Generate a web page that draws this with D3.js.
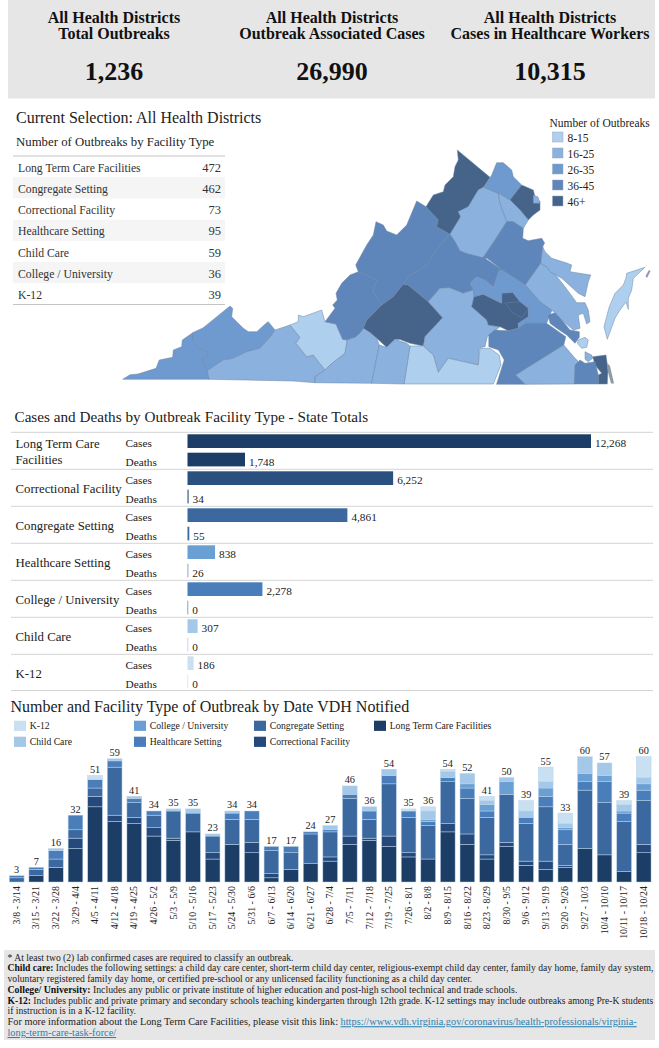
<!DOCTYPE html>
<html>
<head>
<meta charset="utf-8">
<script src="https://cdnjs.cloudflare.com/ajax/libs/d3/7.8.5/d3.min.js"></script>
<style>
html,body{margin:0;padding:0;background:#fff;}
svg{display:block;}
text{font-family:"Liberation Serif","Times New Roman",serif;fill:#222;}
</style>
</head>
<body>
<svg id="c" width="659" height="1048"></svg>
<script>
// ---------- DATA ----------
const kpiTitles = [["All Health Districts","Total Outbreaks"],["All Health Districts","Outbreak Associated Cases"],["All Health Districts","Cases in Healthcare Workers"]];
const kpiValues = [1236, 26990, 10315];

const tableFacilities = ["Long Term Care Facilities","Congregate Setting","Correctional Facility","Healthcare Setting","Child Care","College / University","K-12"];
const tableCounts = [472,462,73,95,59,36,39];

const bucketLabels = ["8-15","16-25","26-35","36-45","46+"];
const bucketColors = ["#aed0ee","#8bb1de","#6e9ad0","#5e86ba","#466389"];

const districtBuckets = [2,2,1,0,3,3,4,1,2,4,1,1,3,3,4,1,0,1,1,3,4,4,2,1,3,4,1,0,3,1,1,0];
const districtOutlines = [
 [[122.7,379.3],[130,374.7],[138,374],[156,368.3],[159.3,360],[172.7,357.3],[173.3,350],[181.7,346.7],[182.3,340],[192.7,332.7],[193.3,341.7],[198.3,348.3],[207.3,351.7],[208.3,356],[202.7,358.3],[207.3,370.7],[209.3,379.3]],
 [[192.7,332.7],[203.3,327.7],[230,306],[232.7,308.3],[231.7,316.7],[243.3,328.3],[248.3,331.7],[256.7,331.7],[266.7,322.7],[268.3,321.7],[275,330],[270,337.3],[260,348.3],[246.7,351.7],[233.3,358.3],[223.3,360],[207.3,370.7],[202.7,358.3],[208.3,356],[207.3,351.7],[198.3,348.3],[193.3,341.7]],
 [[209.3,379.3],[207.3,370.7],[223.3,360],[233.3,358.3],[246.7,351.7],[260,348.3],[270,337.3],[275,330],[290,325],[300,337.3],[296,343.3],[306.7,356.7],[313.3,355],[325,370],[315,376.7],[315,382.7],[293,381]],
 [[290,325],[298.3,321.7],[298.3,315],[303.3,316.7],[321.7,310],[325,321.7],[336,324],[342.7,339.3],[347.3,340],[345,353.3],[330,365],[325,370],[313.3,355],[306.7,356.7],[296,343.3],[300,337.3]],
 [[325,321.7],[335,308.3],[332.7,305],[337.3,300],[336,293.3],[341.7,283.3],[350,275],[358.3,271.7],[376.7,280],[373.3,291.7],[381.7,305],[366.7,320],[363.3,328.3],[360,332.7],[355,337.3],[347.3,340],[342.7,339.3],[336,324]],
 [[358.3,271.7],[355.7,265],[366.7,245],[373.3,235],[376,221.7],[383.3,225],[386.7,231],[396.7,235],[406.7,225],[416.7,201],[426,206.7],[438.3,220],[436.7,226.7],[450,234.3],[440,245],[430.7,258.3],[427.3,265],[408,276.7],[403,284.5],[393.3,296.7],[381.7,305],[373.3,291.7],[376.7,280]],
 [[457.3,150],[490,177.3],[484,186.7],[478.3,190],[468.3,206.7],[458.3,211.7],[460.7,216.7],[450,234.3],[436.7,226.7],[438.3,220],[426,206.7],[433.3,195],[443.3,191.7],[445,185],[453.3,176.7],[455,166.7],[458.3,160]],
 [[484,187.3],[498.3,193.3],[500,203],[506.7,221.7],[495,240],[482.7,258.3],[468,254],[460,251],[455,241.7],[450,234.3],[460.7,216.7],[458.3,211.7],[468.3,206.7],[478.3,190]],
 [[484,187.3],[491.7,175],[496.7,162.7],[503.3,162.7],[511.7,170],[513.3,176.7],[521.7,185],[510,200],[498.3,193.3]],
 [[521.7,185],[533.3,190],[535,196.7],[540,201.7],[540,210],[533.3,215],[528.3,220],[520,210],[510,200]],
 [[533.3,195],[538,197],[540,203.3],[533.3,203.3]],
 [[498.3,193.3],[510,200],[520,210],[528.3,220],[523.3,228.3],[513.3,221.7],[506.7,221.7],[500,203]],
 [[482.7,258.3],[495,240],[506.7,221.7],[513.3,221.7],[523.3,228.3],[522.7,238.3],[528.3,240.7],[541.7,238.3],[544.6,243],[542.7,246.7],[540.8,263.3],[525.4,285],[502.3,270],[487,258.3]],
 [[450,234.3],[455,241.7],[460,251],[468,254],[485,258.3],[502.3,270],[499,270],[493.3,286.7],[485,280],[476.7,276.7],[470,283],[473.3,290],[463.3,293.3],[449.3,287.7],[440,288.3],[428.3,301.7],[408,285],[403,284.5],[408,276.7],[427.3,265],[430.7,258.3],[440,245]],
 [[363.3,328.3],[366.7,320],[381.7,305],[393.3,296.7],[403,284.5],[408,285],[428.3,301.7],[442.7,317.7],[425,336.7],[423.3,346],[410,343.3],[400,339.5],[395,339.3],[386.7,347.3],[376.7,338.3]],
 [[428.3,301.7],[440,288.3],[449.3,287.7],[463.3,293.3],[473.3,290],[474,296.7],[471.7,306.7],[486.7,320],[488.3,325],[500,326.7],[487.3,336.7],[485,346.7],[479.3,347.7],[478.3,365],[448.3,358.3],[438.3,372.3],[433.3,355],[424,346.7],[425,336.7],[442.7,317.7]],
 [[410,346],[423.3,346],[433.3,355],[438.3,372.3],[448.3,358.3],[478.3,365],[480,348.3],[490,348.3],[499.3,355],[501,365],[493.3,384],[404,384]],
 [[347.3,340],[355,337.3],[360,332.7],[363.3,328.3],[370,332.3],[376.7,338.3],[379.3,345],[371.7,383.3],[315,382.7],[315,376.7],[325,370],[330,365],[345,353.3]],
 [[379.3,345],[386.7,347.3],[395,339.3],[406.7,343.3],[410,346],[404,384],[371.7,383.3]],
 [[351.7,330],[353,323],[360,321.7],[363.3,328.3],[360,332.7],[355,337.3]],
 [[471.7,306.7],[474,296.7],[483.3,294.3],[501.7,303.3],[501.7,293.3],[512.7,292.3],[520,301.7],[528.3,308.3],[528.3,316.7],[518.3,323.3],[518.3,328.3],[508.3,330.7],[500,326.7],[488.3,325],[486.7,320]],
 [[505,303],[520,301.7],[528.3,308.3],[522,318],[512,312]],
 [[473.3,290],[470,283],[476.7,276.7],[485,280],[493.3,286.7],[499,270],[502.3,270],[525.4,285],[552,310],[546.6,323.3],[525,323.3],[518.3,328.3],[518.3,323.3],[528.3,316.7],[528.3,308.3],[520,301.7],[512.7,292.3],[501.7,293.3],[501.7,303.3],[483.3,294.3],[474,296.7]],
 [[540.8,263.3],[550.4,268.3],[565,286.7],[576.7,302.7],[585,302.7],[588.3,310],[590,321.7],[586.7,324],[583.3,313.3],[578.3,315],[580,328.3],[573.3,330],[561.7,320],[555,312.7],[540,301.7],[525.4,285]],
 [[488.8,335],[494.6,330],[508.3,330.7],[518.3,328.3],[525.4,323.3],[546.6,323.3],[565.8,336.7],[563.8,345],[515.8,375],[525.4,384.3],[496.5,384.3],[504.2,360],[498.5,350],[488.8,346.7]],
 [[592.7,356.7],[606,355],[606.7,360],[608,370],[607.3,384],[598.3,384],[598.3,375],[601.7,373.3],[595,365]],
 [[563.8,345],[575,358.3],[578,361],[575,384],[525.4,384.3],[515.8,375]],
 [[578.3,340],[585,337.3],[588.3,340],[586.7,347.3],[581.7,348.3],[577.3,343.3]],
 [[575,365],[580,360],[585,363.3],[595,361.7],[598.3,375],[598.3,384],[574.3,384]],
 [[585,351.7],[591.7,355],[592.7,358.3],[588.3,361.7],[585,359.3]],
 [[542.7,246.7],[545,251.7],[551.7,258.3],[566.7,263],[571.7,265],[570,271.7],[590.7,275],[588.3,281.7],[585,296.7],[578.3,293.3],[561.7,278.3],[550,271.7],[546.7,266.7],[540.8,263.3]],
 [[626.7,273.3],[645,267.3],[633.3,278.3],[631.7,290],[628.3,298.3],[628.3,309.3],[626,302],[620,310],[615,318.3],[607.3,339.3],[604,326.7],[609.3,306.7],[615,293.3],[623.3,285],[626,278]]
];
const peninsulaOutline = [[548.3,315],[555,312.7],[561.7,320],[570,330],[579.3,331.7],[579.3,337.3],[575,343.3],[566.7,335],[556.7,328.3],[550,323.3]];
const peninsulaBucket = 3;
const islandOutlines = [
 [[607.3,363],[610,366],[614,383.5],[611,383.5],[607.5,370]],
 [[645.5,276],[649,270],[650.5,271],[647,278]]
];

const caseFacilities = [["Long Term Care","Facilities"],["Correctional Facility"],["Congregate Setting"],["Healthcare Setting"],["College / University"],["Child Care"],["K-12"]];
const caseValues = [12268,6252,4861,838,2278,307,186];
const deathValues = [1748,34,55,26,0,0,0];
const caseBarColors = ["#1c3d66","#2a5080","#3a689f","#6a9fd4","#4a7ebb","#a3c8e8","#c9e0f3"];

const weeks = ["3/8 - 3/14","3/15 - 3/21","3/22 - 3/28","3/29 - 4/4","4/5 - 4/11","4/12 - 4/18","4/19 - 4/25","4/26 - 5/2","5/3 - 5/9","5/10 - 5/16","5/17 - 5/23","5/24 - 5/30","5/31 - 6/6","6/7 - 6/13","6/14 - 6/20","6/21 - 6/27","6/28 - 7/4","7/5 - 7/11","7/12 - 7/18","7/19 - 7/25","7/26 - 8/1","8/2 - 8/8","8/9 - 8/15","8/16 - 8/22","8/23 - 8/29","8/30 - 9/5","9/6 - 9/12","9/13 - 9/19","9/20 - 9/26","9/27 - 10/3","10/4 - 10/10","10/11 - 10/17","10/18 - 10/24"];
const stackKeys = ["Long Term Care Facilities","Correctional Facility","Congregate Setting","Healthcare Setting","College / University","Child Care","K-12"];
const stackColors = ["#1c3d66","#24497a","#3a689f","#4a7ebb","#6a9fd4","#a3c8e8","#c9e0f3"];
const ltc          = [0,3,7,16,36,29,28,22,20,24,11,18,14,2,6,9,10,18,20,17,12,11,24,18,11,17,8,6,7,16,13,5,14];
const correctional = [0,0,0,5,5,3,3,4,1,0,3,0,5,2,0,0,2,4,1,5,2,0,4,5,2,2,2,4,1,0,0,0,4];
const congregate   = [2,3,4,4,4,23,7,6,13,9,8,12,11,11,8,14,12,18,9,25,17,16,20,17,18,23,18,26,10,28,25,24,21];
const healthcare   = [1,1,4,7,4,3,2,2,0,0,0,3,4,2,3,1,1,2,4,4,3,2,2,5,3,0,3,5,7,4,10,4,5];
const college      = [0,0,0,0,0,0,0,0,0,0,0,0,0,0,0,0,0,0,0,0,0,1,0,2,3,6,0,4,1,4,3,1,3];
const childCare    = [0,0,1,0,0,1,1,0,1,2,1,1,0,0,0,0,2,4,2,3,0,4,3,5,2,2,3,3,2,8,6,3,3];
const k12          = [0,0,0,0,2,0,0,0,0,0,0,0,0,0,0,0,0,0,0,0,1,2,1,0,2,0,5,7,5,0,0,2,10];
const stackSeries  = [ltc,correctional,congregate,healthcare,college,childCare,k12];
const legendOrder = [["K-12","Child Care"],["College / University","Healthcare Setting"],["Congregate Setting","Correctional Facility"],["Long Term Care Facilities"]];

const footnotes = [
 [["","* At least two (2) lab confirmed cases are required to classify an outbreak."]],
 [["b","Child care: "],["","Includes the following settings: a child day care center, short-term child day center, religious-exempt child day center, family day home, family day system,"]],
 [["","voluntary registered family day home, or certified pre-school or any unlicensed facility functioning as a child day center."]],
 [["b","College/ University: "],["","Includes any public or private institute of higher education and post-high school technical and trade schools."]],
 [["b","K-12: "],["","Includes public and private primary and secondary schools teaching kindergarten through 12th grade. K-12 settings may include outbreaks among Pre-K students"]],
 [["","if instruction is in a K-12 facility."]],
 [["","For more information about the Long Term Care Facilities, please visit this link: "],["a","https://www.vdh.virginia.gov/coronavirus/health-professionals/virginia-"]],
 [["a","long-term-care-task-force/"]]
];
const footnoteSizes = [9.65,9.6,9.65,9.8,9.6,9.65,10.3,10.3];

// ---------- DRAW ----------
const svg = d3.select("#c");
const fmt = d3.format(",");

// KPI band
svg.append("rect").attr("x",8).attr("y",0).attr("width",647).attr("height",98.5).attr("fill","#e6e6e6");
const kpiX = d3.scaleOrdinal().domain([0,1,2]).range([114,332,550]);
kpiTitles.forEach((t,i)=>{
  t.forEach((line,j)=>svg.append("text").attr("x",kpiX(i)).attr("y",22.5+j*16.3).attr("text-anchor","middle")
    .attr("font-size",16).attr("font-weight","bold").style("fill","#111").text(line));
  svg.append("text").attr("x",kpiX(i)).attr("y",80).attr("text-anchor","middle")
    .attr("font-size",26).attr("font-weight","bold").style("fill","#111").text(fmt(kpiValues[i]));
});

// Selection + table
svg.append("text").attr("x",16).attr("y",122.5).attr("font-size",16).text("Current Selection: All Health Districts");
svg.append("text").attr("x",16).attr("y",145.5).attr("font-size",12.8).text("Number of Outbreaks by Facility Type");
const rowY = d3.scaleBand().domain(tableFacilities).range([156,304.5]);
svg.append("g").selectAll("rect").data(tableFacilities.filter((d,i)=>i%2==1)).join("rect")
  .attr("x",13).attr("width",212).attr("y",d=>rowY(d)).attr("height",rowY.bandwidth()).attr("fill","#f5f5f5");
[156,304.5].forEach(y=>svg.append("line").attr("x1",13).attr("x2",225).attr("y1",y).attr("y2",y).attr("stroke","#c4c4c4"));
tableFacilities.forEach((d,i)=>{
  const y=rowY(d)+rowY.bandwidth()/2+5.2;
  svg.append("text").attr("x",18).attr("y",y).attr("font-size",11.7).style("fill","#333").text(d);
  svg.append("text").attr("x",221).attr("y",y).attr("text-anchor","end").attr("font-size",12.5).style("fill","#333").text(tableCounts[i]);
});

// Map
const projection = d3.geoIdentity();
const mapPath = d3.geoPath(projection);
const toFeature = (ring,b)=>({type:"Feature",properties:{bucket:b},geometry:{type:"Polygon",coordinates:[ring.concat([ring[0]])]}});
const features = districtOutlines.map((r,i)=>toFeature(r,districtBuckets[i]));
features.push(toFeature(peninsulaOutline,peninsulaBucket));
svg.append("g").selectAll("path").data(features).join("path")
  .attr("d",mapPath).attr("fill",d=>bucketColors[d.properties.bucket])
  .attr("stroke","#6d85a3").attr("stroke-width",0.5).attr("stroke-linejoin","round");
svg.append("g").selectAll("path").data(islandOutlines.map(r=>toFeature(r,0))).join("path")
  .attr("d",mapPath).attr("fill","#8c9aaa");

svg.append("text").attr("x",549.5).attr("y",126.5).attr("font-size",11.5).text("Number of Outbreaks");
const legY = d3.scaleBand().domain(bucketLabels).range([130.5,210.5]);
bucketLabels.forEach((l,i)=>{
  svg.append("rect").attr("x",552.5).attr("y",legY(l)+1.5).attr("width",10.5).attr("height",10)
    .attr("fill",bucketColors[i]).attr("stroke","#9aa9bb").attr("stroke-width",0.5);
  svg.append("text").attr("x",567.5).attr("y",legY(l)+11.5).attr("font-size",11.5).text(l);
});

// Cases & deaths
svg.append("text").attr("x",14.5).attr("y",421.5).attr("font-size",15.2).text("Cases and Deaths by Outbreak Facility Type - State Totals");
const facY = d3.scaleBand().domain(caseFacilities.map(d=>d.join(" "))).range([432.3,691.3]);
const caseX = d3.scaleLinear().domain([0,12268]).range([187.5,591]);
const rowsG = svg.append("g");
caseFacilities.forEach((f,i)=>{
  const name=f.join(" "), y0=facY(name), h=facY.bandwidth();
  rowsG.append("line").attr("x1",11).attr("x2",653).attr("y1",y0).attr("y2",y0).attr("stroke","#d4d4d4");
  if(f.length==2){
    f.forEach((l,j)=>rowsG.append("text").attr("x",15.5).attr("y",y0+16+j*16).attr("font-size",12.8).text(l));
  } else {
    rowsG.append("text").attr("x",15.5).attr("y",y0+h/2+5).attr("font-size",12.8).text(f[0]);
  }
  [["Cases",caseValues[i],2,14.6],["Deaths",deathValues[i],20.4,33.2]].forEach(([lab,v,off,base])=>{
    rowsG.append("text").attr("x",125.5).attr("y",y0+base).attr("font-size",11.3).text(lab);
    rowsG.append("rect").attr("x",caseX(0)).attr("y",y0+off).attr("height",13.7)
      .attr("width",Math.max(caseX(v)-caseX(0),0.7)).attr("fill",caseBarColors[i]);
    rowsG.append("text").attr("x",Math.max(caseX(v),caseX(0)+0.7)+4).attr("y",y0+base).attr("font-size",11.3).text(fmt(v));
  });
});
rowsG.append("line").attr("x1",11).attr("x2",653).attr("y1",690.5).attr("y2",690.5).attr("stroke","#d4d4d4");

// Stacked bars
svg.append("text").attr("x",10.5).attr("y",712).attr("font-size",16).text("Number and Facility Type of Outbreak by Date VDH Notified");
const legendCols = d3.scaleBand().domain([0,1,2,3]).range([14,494]);
const stackColor = d3.scaleOrdinal().domain(stackKeys).range(stackColors);
legendOrder.forEach((col,c)=>col.forEach((name,r)=>{
  const x=legendCols(c), y=720.7+r*16;
  svg.append("rect").attr("x",x).attr("y",y).attr("width",12).attr("height",10.2).attr("fill",stackColor(name));
  svg.append("text").attr("x",x+15.7).attr("y",y+8.3).attr("font-size",9.7).text(name);
}));
const x = d3.scaleBand().domain(weeks).range([6.9,653.5]).paddingInner(0.25).paddingOuter(0.125);
const y = d3.scaleLinear().domain([0,60]).range([882,756.7]);
const table = weeks.map((w,i)=>{const o={week:w};stackKeys.forEach((k,j)=>o[k]=stackSeries[j][i]);return o;});
const layers = d3.stack().keys(stackKeys)(table);
svg.append("g").selectAll("g").data(layers).join("g").attr("fill",d=>stackColor(d.key))
  .selectAll("rect").data(d=>d.filter(s=>s[1]>s[0])).join("rect")
  .attr("x",d=>x(d.data.week)).attr("width",x.bandwidth())
  .attr("y",d=>y(d[1])).attr("height",d=>y(d[0])-y(d[1]))
  .attr("stroke","#b9d2ea").attr("stroke-width",0.5);
svg.append("g").selectAll("text").data(table).join("text")
  .attr("x",d=>x(d.week)+x.bandwidth()/2)
  .attr("y",d=>y(d3.sum(stackKeys,k=>d[k]))-2.5)
  .attr("text-anchor","middle").attr("font-size",10.3)
  .text(d=>d3.sum(stackKeys,k=>d[k]));
const axis = svg.append("g").attr("transform","translate(0,882)").call(d3.axisBottom(x).tickSize(0));
axis.select(".domain").remove();
axis.selectAll("text").attr("transform","rotate(-90)").attr("text-anchor","end")
  .attr("x",-4).attr("y",0).attr("dy","0.32em").attr("font-size",9.9)
  .style("font-family",'"Liberation Serif",serif').style("fill","#222");

// Footnotes
svg.append("rect").attr("x",4).attr("y",950).attr("width",651).attr("height",90).attr("fill","#e6e6e6");
const noteY = d3.scaleLinear().domain([0,7]).range([960.7,1036]);
footnotes.forEach((parts,i)=>{
  const t=svg.append("text").attr("x",7.5).attr("y",noteY(i)).attr("font-size",footnoteSizes[i]);
  parts.forEach(([k,s])=>{
    const sp=t.append("tspan").text(s);
    if(k=="b") sp.attr("font-weight","bold").style("fill","#111");
    if(k=="a") sp.style("fill","#2a7fb0").attr("text-decoration","underline");
  });
});
</script>
</body>
</html>
